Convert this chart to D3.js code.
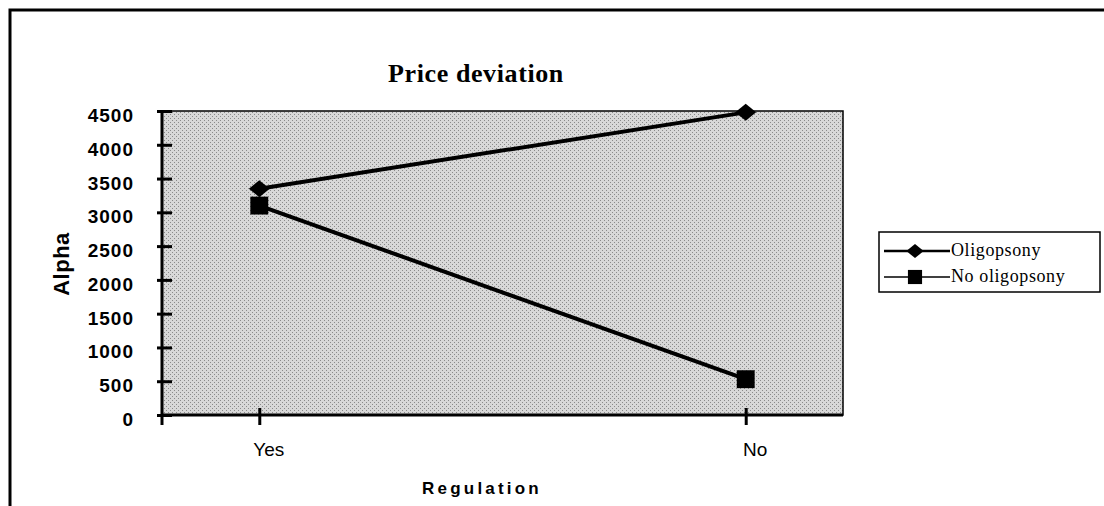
<!DOCTYPE html>
<html>
<head>
<meta charset="utf-8">
<script src="https://cdn.jsdelivr.net/npm/d3@7"></script>
<style>
  body { margin: 0; background: #fff; }
  svg { display: block; }
</style>
</head>
<body>
<div class="chart"></div>
<script>
// data
const categories = ["Yes", "No"];
const seriesNames = ["Oligopsony", "No oligopsony"];
const oligopsony = [3350, 4480];
const noOligopsony = [3100, 530];
const yTicks = [0, 500, 1000, 1500, 2000, 2500, 3000, 3500, 4000, 4500];

const W = 1104, H = 506;
const plot = { left: 162, top: 111, right: 843, bottom: 415 };
const sans = "Liberation Sans, Arial, sans-serif";
const serif = "Liberation Serif, Times New Roman, serif";

const svg = d3.select(".chart").append("svg")
  .attr("width", W).attr("height", H);

// outer frame (cropped at right and bottom)
svg.append("path")
  .attr("d", `M10,${H} L10,10 L${W},10`)
  .attr("fill", "none").attr("stroke", "#000").attr("stroke-width", 3);

const defs = svg.append("defs");
const pat = defs.append("pattern")
  .attr("id", "dither").attr("width", 4).attr("height", 4)
  .attr("patternUnits", "userSpaceOnUse");
pat.append("rect").attr("width", 4).attr("height", 4).attr("fill", "#d8d8d8");
pat.append("rect").attr("x", 0).attr("y", 0).attr("width", 1).attr("height", 1).attr("fill", "#8a8a8a");
pat.append("rect").attr("x", 2).attr("y", 2).attr("width", 1).attr("height", 1).attr("fill", "#8a8a8a");

const xScale = d3.scalePoint()
  .domain(categories)
  .range([plot.left, plot.right])
  .padding(0.2);

const yScale = d3.scaleLinear()
  .domain([0, 4500])
  .range([plot.bottom, plot.top]);

// plot background
svg.append("rect")
  .attr("x", plot.left).attr("y", plot.top)
  .attr("width", plot.right - plot.left).attr("height", plot.bottom - plot.top)
  .attr("fill", "url(#dither)")
  .attr("stroke", "#000").attr("stroke-width", 1.5);

// axes
const yAxis = d3.axisLeft(yScale).tickValues(yTicks).tickFormat(d3.format("d"))
  .tickSize(0).tickPadding(28);
const gy = svg.append("g").attr("transform", `translate(${plot.left},0)`).call(yAxis);
gy.select(".domain").remove();
gy.selectAll("text")
  .attr("font-family", sans)
  .attr("font-size", 19).attr("font-weight", "bold").attr("fill", "#000")
  .attr("letter-spacing", 1)
  .attr("dy", "0.55em");
gy.selectAll(".tick").append("line")
  .attr("x1", -5).attr("x2", 10).attr("stroke", "#000").attr("stroke-width", 3);

const xAxis = d3.axisBottom(xScale).tickSize(0).tickPadding(28);
const gx = svg.append("g").attr("transform", `translate(0,${plot.bottom})`).call(xAxis);
gx.select(".domain").remove();
gx.selectAll("text")
  .attr("font-family", sans)
  .attr("font-size", 19).attr("fill", "#000")
  .attr("dx", 9);
gx.selectAll(".tick").append("line")
  .attr("y1", -7).attr("y2", 10).attr("stroke", "#000").attr("stroke-width", 3);
svg.append("line")
  .attr("x1", plot.left).attr("x2", plot.left)
  .attr("y1", plot.bottom + 10).attr("y2", plot.bottom)
  .attr("stroke", "#000").attr("stroke-width", 3);

// thick left and bottom axis lines
svg.append("path")
  .attr("d", `M${plot.left},${plot.top} L${plot.left},${plot.bottom} L${plot.right},${plot.bottom}`)
  .attr("fill", "none").attr("stroke", "#000").attr("stroke-width", 3);

// series
const series = [
  { name: seriesNames[0], values: oligopsony, symbol: d3.symbolDiamond, size: 130, sx: 1.7, sy: 0.8 },
  { name: seriesNames[1], values: noOligopsony, symbol: d3.symbolSquare, size: 320, sx: 1, sy: 1 }
];

const line = d3.line()
  .x((d, i) => xScale(categories[i]))
  .y(d => yScale(d));

series.forEach(s => {
  svg.append("path")
    .datum(s.values)
    .attr("d", line)
    .attr("fill", "none").attr("stroke", "#000").attr("stroke-width", 4);
  svg.selectAll(null)
    .data(s.values)
    .enter()
    .append("path")
    .attr("d", d3.symbol(s.symbol, s.size))
    .attr("transform", (d, i) => `translate(${xScale(categories[i])},${yScale(d)}) scale(${s.sx},${s.sy})`)
    .attr("fill", "#000");
});

// titles
svg.append("text")
  .attr("x", 476).attr("y", 82)
  .attr("text-anchor", "middle")
  .attr("font-family", serif)
  .attr("font-size", 26).attr("font-weight", "bold")
  .attr("letter-spacing", 0.6)
  .text("Price deviation");

svg.append("text")
  .attr("transform", "translate(69,264) rotate(-90)")
  .attr("text-anchor", "middle")
  .attr("font-family", sans)
  .attr("font-size", 22).attr("font-weight", "bold")
  .attr("letter-spacing", 0.5)
  .text("Alpha");

svg.append("text")
  .attr("x", 482).attr("y", 494)
  .attr("text-anchor", "middle")
  .attr("font-family", sans)
  .attr("font-size", 17).attr("font-weight", "bold")
  .attr("letter-spacing", 3.2)
  .text("Regulation");

// legend
const legend = svg.append("g").attr("transform", "translate(879,232)");
legend.append("rect")
  .attr("width", 221).attr("height", 60)
  .attr("fill", "#fff").attr("stroke", "#000").attr("stroke-width", 1.5);
series.forEach((s, i) => {
  const y = 19 + i * 26;
  legend.append("line")
    .attr("x1", 5).attr("x2", 71).attr("y1", y).attr("y2", y)
    .attr("stroke", "#000").attr("stroke-width", i === 0 ? 2.5 : 1.5);
  legend.append("path")
    .attr("d", d3.symbol(s.symbol, i === 0 ? 90 : 200))
    .attr("transform", `translate(36,${y}) scale(${s.sx},${s.sy})`)
    .attr("fill", "#000");
  legend.append("text")
    .attr("x", 72).attr("y", y + 5)
    .attr("font-family", serif)
    .attr("font-size", 18)
    .attr("letter-spacing", 0.6)
    .text(s.name);
});
</script>
</body>
</html>
